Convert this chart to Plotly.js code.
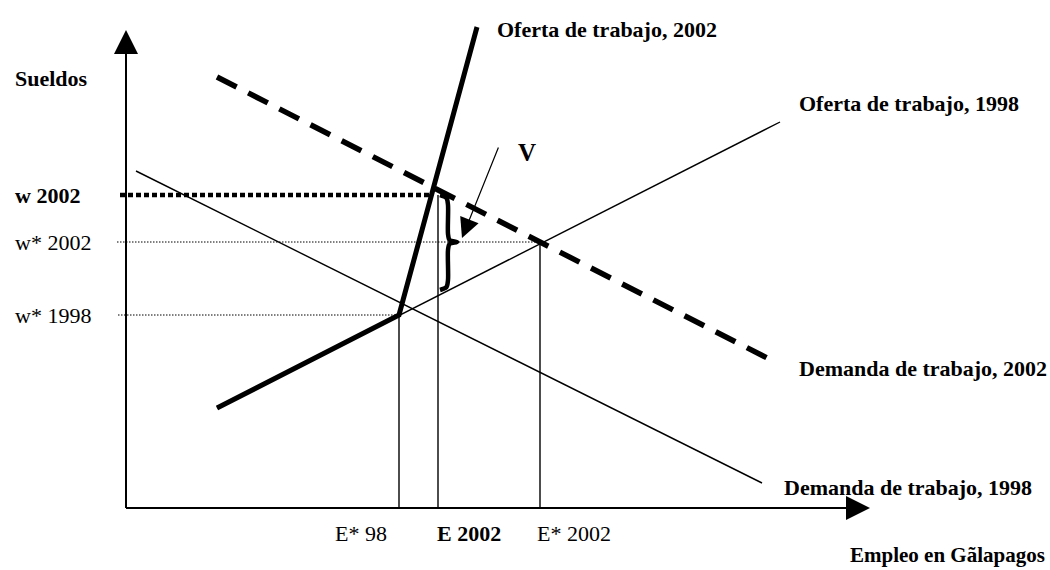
<!DOCTYPE html>
<html>
<head>
<meta charset="utf-8">
<script src="https://cdn.plot.ly/plotly-3.0.1.min.js"></script>
<style>html,body{margin:0;padding:0;background:#fff;}#chart{width:1050px;height:570px;}</style>
</head>
<body>
<div id="chart"></div>
<script>
// ---- Data (employment units on x, wage units on y) ----
const demand1998X = [1.0, 63.6];
const demand1998Y = [33.7, 2.5];
const supply1998X = [9.1, 65.4];
const supply1998Y = [10.0, 38.6];
const supply2002X = [9.1, 27.3, 35.1];
const supply2002Y = [10.0, 19.3, 48.1];
const demand2002X = [9.1, 65.1];
const demand2002Y = [43.1, 14.5];

const empLevels = [27.3, 31.2, 41.4];          // E*98, E 2002, E* 2002
const empLabels = ['E* 98', '<b>E 2002</b>', 'E* 2002'];
const wageLevels = [31.3, 26.6, 19.3];         // w 2002, w* 2002, w* 1998
const wageLabels = ['<b>w 2002</b>', 'w* 2002', 'w* 1998'];
const wageLineEnds = [30.6, 41.4, 27.3];       // where each wage guide line ends
const empLineTops = [19.3, 31.3, 26.6];        // where each employment guide line ends
const braceBottom = 21.8;                      // lower end of the V bracket
const vArrowFrom = [37.3, 36.2];
const vArrowTo = [33.6, 27.0];
const axisXMax = 74.4, axisYMax = 47.8;

const FONT = 'Liberation Serif, Times New Roman, serif';
const FS = 22;

const traces = [];
const line = (x, y, width, dash) => ({
  x, y, type: 'scatter', mode: 'lines', hoverinfo: 'skip', showlegend: false,
  line: {color: '#000', width, dash: dash || 'solid'}
});

// guide lines
traces.push(line([-0.6, wageLineEnds[0]], [wageLevels[0], wageLevels[0]], 4.5, '5px,3px'));
traces.push(line([-0.9, wageLineEnds[1]], [wageLevels[1], wageLevels[1]], 1, '1.5px,1.5px'));
traces.push(line([-0.8, wageLineEnds[2]], [wageLevels[2], wageLevels[2]], 1, '1.5px,1.5px'));
for (let i = 0; i < empLevels.length; i++) {
  traces.push(line([empLevels[i], empLevels[i]], [0, empLineTops[i]], 1.4));
}
// curves
traces.push(line(demand1998X, demand1998Y, 1.4));
traces.push(line(supply1998X, supply1998Y, 1.4));
traces.push(line(supply2002X, supply2002Y, 5));
traces.push(line(demand2002X, demand2002Y, 5.5, '22px,13px'));

// bracket "}"
const bx = empLevels[1], bTop = wageLevels[0], bMid = wageLevels[1], bBot = braceBottom;
traces.push({
  x: [bx + 0.2, bx + 0.85, bx + 1.0, bx + 1.0, bx + 1.15, bx + 1.9, bx + 1.15, bx + 1.0, bx + 1.0, bx + 0.85, bx + 0.2],
  y: [bTop, bTop - 0.3, bTop - 1.0, bMid + 0.8, bMid + 0.2, bMid, bMid - 0.2, bMid - 0.8, bBot + 1.0, bBot + 0.3, bBot],
  type: 'scatter', mode: 'lines', hoverinfo: 'skip', showlegend: false,
  line: {color: '#000', width: 4.5, shape: 'spline', smoothing: 0.8}
});

// axes
traces.push(line([0, 0], [0, axisYMax - 1.5], 2));
traces.push(line([0, axisXMax - 1.5], [0, 0], 2));

const ann = [];
const txt = (x, y, text, xanchor, size) => ({
  x, y, xref: 'x', yref: 'y', text, showarrow: false,
  xanchor: xanchor || 'left', yanchor: 'middle',
  font: {family: FONT, size: size || FS, color: '#000'}
});
ann.push({x: 0, y: axisYMax, ax: 0, ay: axisYMax - 2, xref: 'x', yref: 'y', axref: 'x', ayref: 'y',
  showarrow: true, arrowhead: 2, arrowsize: 2.4, arrowwidth: 2, arrowcolor: '#000', text: ''});
ann.push({x: axisXMax, y: 0, ax: axisXMax - 2, ay: 0, xref: 'x', yref: 'y', axref: 'x', ayref: 'y',
  showarrow: true, arrowhead: 2, arrowsize: 2.4, arrowwidth: 2, arrowcolor: '#000', text: ''});
ann.push({x: vArrowTo[0], y: vArrowTo[1], ax: vArrowFrom[0], ay: vArrowFrom[1], xref: 'x', yref: 'y', axref: 'x', ayref: 'y',
  showarrow: true, arrowhead: 2, arrowsize: 3.3, arrowwidth: 1.2, arrowcolor: '#000', text: ''});

ann.push(txt(-11.3, 43.0, '<b>Sueldos</b>'));
for (let i = 0; i < wageLevels.length; i++) ann.push(txt(-11.3, wageLevels[i], wageLabels[i]));
const empLabelX = [20.7, 30.9, 40.9];
for (let i = 0; i < empLevels.length; i++) ann.push(txt(empLabelX[i], -2.5, empLabels[i]));
ann.push(txt(36.9, 47.9, '<b>Oferta de trabajo, 2002</b>'));
ann.push(txt(67.1, 40.5, '<b>Oferta de trabajo, 1998</b>'));
ann.push(txt(39.0, 35.6, '<b>V</b>', 'left', 25));
ann.push(txt(67.1, 14.0, '<b>Demanda de trabajo, 2002</b>'));
ann.push(txt(65.6, 2.1, '<b>Demanda de trabajo, 1998</b>'));
ann.push(txt(92.1, -4.7, '<b>Empleo en Gãlapagos</b>', 'right', 21));

const layout = {
  width: 1050, height: 570,
  margin: {l: 0, r: 0, t: 0, b: 0},
  paper_bgcolor: '#fff', plot_bgcolor: '#fff',
  xaxis: {range: [-12.6, 92.4], visible: false, fixedrange: true},
  yaxis: {range: [-6.2, 50.8], visible: false, fixedrange: true},
  annotations: ann,
  showlegend: false,
  font: {family: FONT}
};
Plotly.newPlot('chart', traces, layout, {staticPlot: true});
</script>
</body>
</html>
